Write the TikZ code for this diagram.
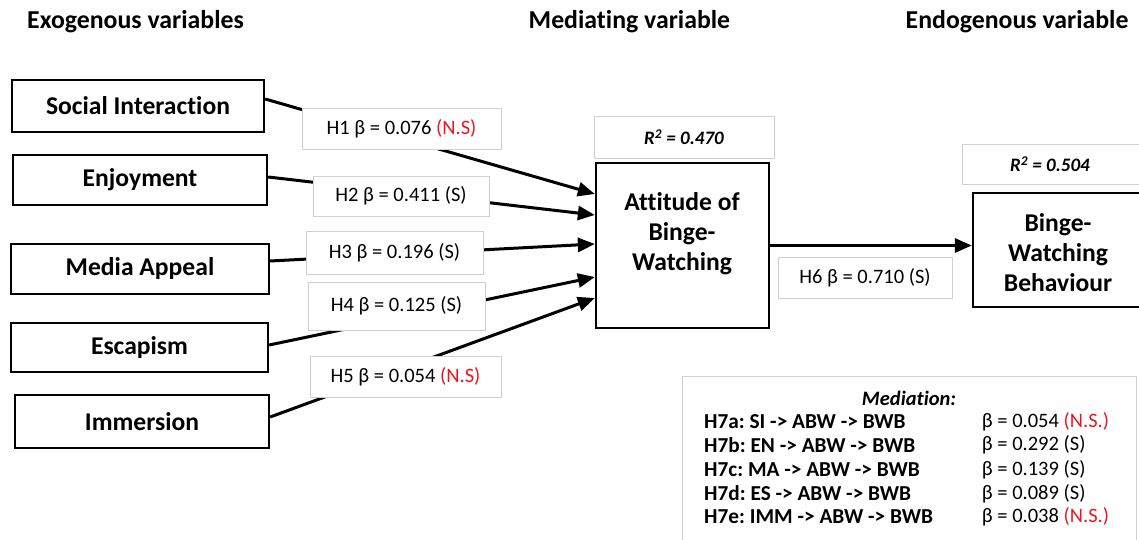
\documentclass[tikz,border=0pt]{standalone}
\usepackage{fontspec}
\setmainfont{Carlito}[Ligatures=NoCommon]
\frenchspacing
\usetikzlibrary{arrows.meta}
\definecolor{nsred}{RGB}{232,24,32}
\definecolor{lblgray}{RGB}{208,208,208}
\begin{document}
\begin{tikzpicture}[x=1pt,y=-1pt,
  varbox/.style={draw=black, line width=2.3pt, fill=white, inner sep=0pt,
    font=\fontsize{25.6}{30}\selectfont\bfseries, align=center},
  vartext/.style={inner sep=0pt, font=\fontsize{25.6}{30}\selectfont\bfseries, align=center},
  coefbox/.style={draw=lblgray, line width=0.8pt, fill=white, inner sep=0pt,
    font=\fontsize{20.5}{24}\selectfont},
  rsqbox/.style={coefbox, font=\fontsize{19}{22}\selectfont\bfseries\itshape},
  link/.style={line width=3pt, -{Triangle[length=17pt,width=14pt]}},
  head/.style={inner sep=0pt, anchor=west, font=\fontsize{25.8}{30}\selectfont\bfseries},
  medrow/.style={inner sep=0pt, anchor=west, font=\fontsize{21.3}{24}\selectfont\bfseries},
  medval/.style={inner sep=0pt, anchor=west, font=\fontsize{20.5}{24}\selectfont}
]
\path[use as bounding box] (0,0) rectangle (1139,540);
\clip (0,0) rectangle (1139,540);

% column headings
\node[head] (hexo) at (27,21.7) {Exogenous variables};
\node[head] (hmed) at (528.5,21.7) {Mediating variable};
\node[head] (hend) at (905.5,21.7) {Endogenous variable};

% exogenous constructs
\node[varbox, minimum width=252pt, minimum height=52pt] (si) at (138,106) {Social Interaction};
\node[varbox, minimum width=254pt, minimum height=50pt] (en) at (140,180) {Enjoyment};
\node[varbox, minimum width=258pt, minimum height=50pt] (ma) at (140,269) {Media Appeal};
\node[varbox, minimum width=257pt, minimum height=49pt] (es) at (139.5,347.5) {Escapism};
\node[varbox, minimum width=254pt, minimum height=53pt] (im) at (142,421.5) {Immersion};

% mediator and outcome
\node[varbox, minimum width=173pt, minimum height=165pt] (att) at (682.5,245.5) {};
\node[vartext] (atttext) at (682,233.5) {Attitude of\\Binge-\\Watching};
\node[varbox, minimum width=177pt, minimum height=114pt] (bwb) at (1061.5,250) {};
\node[vartext] (bwbtext) at (1058,253) {Binge-\\Watching\\Behaviour};

% explained variance
\node[rsqbox, minimum width=180pt, minimum height=42pt] (r1) at (684,137) {R\textsuperscript{2} = 0.470};
\node[rsqbox, minimum width=188pt, minimum height=40pt] (r2) at (1056,164) {\hspace*{-12pt}R\textsuperscript{2} = 0.504};

% structural paths
\coordinate (t1) at ([yshift=51.5pt]att.west);
\coordinate (t2) at ([yshift=30.5pt]att.west);
\coordinate (t3) at ([yshift=1.5pt]att.west);
\coordinate (t4) at ([yshift=-31.5pt]att.west);
\coordinate (t5) at ([yshift=-52.5pt]att.west);
\draw[link] ([yshift=7pt]si.east) -- (t1);
\draw[link] ([yshift=3pt]en.east) -- (t2);
\draw[link] ([yshift=8pt]ma.east) -- (t3);
\draw[link] ([yshift=2.5pt]es.east) -- (t4);
\draw[link] ([yshift=4.5pt]im.east) -- (t5);
\draw[link] (att.east) -- (att.east -| bwb.west);

% path coefficients
\node[coefbox, minimum width=199pt, minimum height=41pt] (h1) at (401.5,128.5) {H1 β = 0.076 {\color{nsred}(N.S)}};
\node[coefbox, minimum width=176pt, minimum height=40pt] (h2) at (401,196) {H2 β = 0.411 (S)};
\node[coefbox, minimum width=177pt, minimum height=43pt] (h3) at (394.5,252.5) {H3 β = 0.196 (S)};
\node[coefbox, minimum width=177pt, minimum height=48pt] (h4) at (396.5,306) {H4 β = 0.125 (S)};
\node[coefbox, minimum width=191pt, minimum height=41pt] (h5) at (405.5,376.5) {H5 β = 0.054 {\color{nsred}(N.S)}};
\node[coefbox, minimum width=174pt, minimum height=41pt] (h6) at (865,277.5) {H6 β = 0.710 (S)};

% mediation results
\node[draw=lblgray, line width=0.8pt, inner sep=0pt, minimum width=454pt, minimum height=184pt] (med) at (909,468) {};
\node[inner sep=0pt, font=\fontsize{20.5}{24}\selectfont\bfseries\itshape] (medtitle) at (909,398) {Mediation:};
\node[medrow] (m1) at (704,421.7) {H7a: SI -> ABW -> BWB};
\node[medrow] (m2) at (704,445) {H7b: EN -> ABW -> BWB};
\node[medrow] (m3) at (704,469.3) {H7c: MA -> ABW -> BWB};
\node[medrow] (m4) at (704,493.3) {H7d: ES -> ABW -> BWB};
\node[medrow] (m5) at (704,516.7) {H7e: IMM -> ABW -> BWB};
\node[medval] (v1) at (981.7,421.7) {β = 0.054 {\color{nsred}(N.S.)}};
\node[medval] (v2) at (981.7,445) {β = 0.292 (S)};
\node[medval] (v3) at (981.7,469.3) {β = 0.139 (S)};
\node[medval] (v4) at (981.7,493.3) {β = 0.089 (S)};
\node[medval] (v5) at (981.7,516.7) {β = 0.038 {\color{nsred}(N.S.)}};
\end{tikzpicture}
\end{document}
